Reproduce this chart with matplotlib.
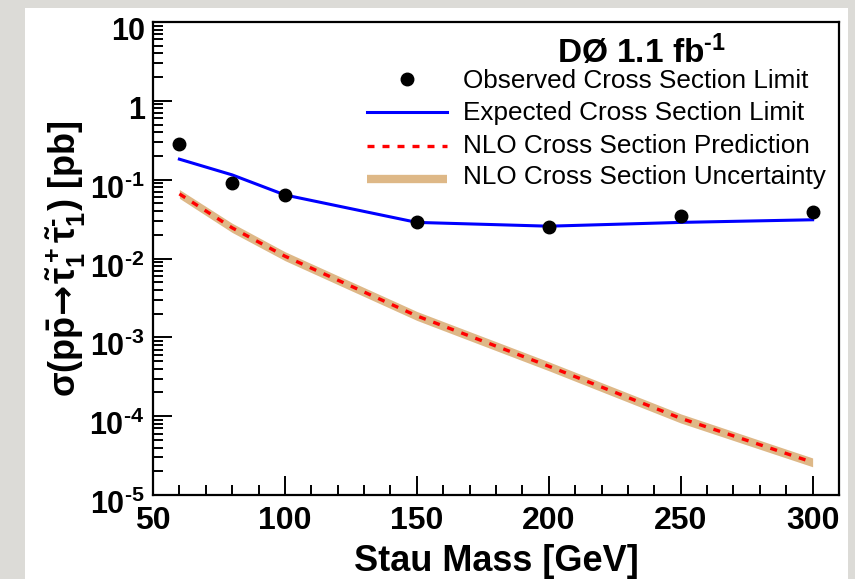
import numpy as np
import matplotlib
matplotlib.use("Agg")
import matplotlib.pyplot as plt
import matplotlib.transforms as mtransforms
from matplotlib.patches import Rectangle
from matplotlib.lines import Line2D
from matplotlib.ticker import FixedLocator, FuncFormatter, LogLocator, NullFormatter

plt.rcParams["font.family"] = ["Liberation Sans", "DejaVu Sans"]
plt.rcParams["mathtext.fontset"] = "custom"
plt.rcParams["mathtext.rm"] = "Liberation Sans:bold"
plt.rcParams["mathtext.it"] = "Liberation Sans:bold"
plt.rcParams["mathtext.bf"] = "Liberation Sans:bold"
plt.rcParams["mathtext.sf"] = "DejaVu Sans:bold"   # only used for the arrow

###########################################################################
# Data
###########################################################################

mass = [60, 80, 100, 150, 200, 250, 300]

observed = [0.283, 0.091, 0.064, 0.029, 0.025, 0.035, 0.039]
expected = [0.182, 0.115, 0.064, 0.0287, 0.0257, 0.0287, 0.031]
nlo = [0.066, 0.0245, 0.0107, 0.00187, 0.00043, 9.4e-5, 2.6e-5]
nlo_up = [0.075, 0.028, 0.0122, 0.00213, 0.00049, 1.07e-4, 2.95e-5]
nlo_down = [0.058, 0.0214, 0.0094, 0.00164, 0.000377, 8.2e-5, 2.28e-5]

x_ticks = [50, 100, 150, 200, 250, 300]
y_ticks = [1e-5, 1e-4, 1e-3, 1e-2, 1e-1, 1, 10]

###########################################################################
# Figure
###########################################################################

fig = plt.figure(figsize=(8.55, 5.79), dpi=100, facecolor="#dcdbd7")

# white panel behind everything
fig.patches.append(Rectangle((25 / 855, 0), 823 / 855, 571 / 579,
                             transform=fig.transFigure, facecolor="white",
                             edgecolor="none", zorder=-10))

ax = fig.add_axes([153 / 855, 1 - 495 / 579, 686 / 855, 473 / 579])
ax.set_zorder(5)
ax.set_facecolor("white")

ax.fill_between(mass, nlo_down, nlo_up, color="#deb887", lw=0, zorder=1)
ax.plot(mass, nlo, color="red", lw=2.4, dashes=(2.1, 2.4), zorder=2)
ax.plot(mass, expected, color="blue", lw=2.2, zorder=3)
ax.plot(mass, observed, "o", color="black", ms=9, zorder=4)

ax.set_yscale("log")
ax.set_xlim(50, 310)
ax.set_ylim(1e-5, 10)

ax.xaxis.set_major_locator(FixedLocator(x_ticks))
ax.xaxis.set_minor_locator(FixedLocator(range(50, 311, 10)))
ax.yaxis.set_major_locator(FixedLocator(y_ticks))
ax.yaxis.set_minor_locator(LogLocator(base=10, subs=np.arange(2, 10)))
ax.yaxis.set_minor_formatter(NullFormatter())


def ylab(v, pos):
    e = int(round(np.log10(v)))
    if e == 0:
        return "1"
    if e == 1:
        return "10"
    return r"$\mathbf{10^{\text{-%d}}}$" % (-e)


ax.yaxis.set_major_formatter(FuncFormatter(ylab))

ax.tick_params(which="both", direction="in", top=False, right=False, width=1.4)
ax.tick_params(which="major", length=14)
ax.tick_params(which="minor", length=7)
ax.tick_params(axis="x", labelsize=23, pad=8)
ax.tick_params(axis="y", labelsize=22, pad=6)
for lab in ax.get_xticklabels():
    lab.set_fontweight("bold")

# ROOT puts the labels a bit below the tick
shift = mtransforms.ScaledTranslation(0, -7 / 100, fig.dpi_scale_trans)
for lab in ax.get_yticklabels():
    lab.set_fontweight("bold")
    lab.set_transform(lab.get_transform() + shift)

for s in ax.spines.values():
    s.set_linewidth(1.6)

ax.set_xlabel("Stau Mass [GeV]", fontsize=26, fontweight="bold", labelpad=6)
ax.set_ylabel(r"$\sigma(p\bar{p}\!\mathsf{\rightarrow}\!\tilde{\tau}_1^+\tilde{\tau}_1^{\text{-}})$ [pb]",
              fontsize=26, fontweight="bold", labelpad=1)

###########################################################################
# Legend (drawn by hand, ROOT style)
###########################################################################

fy = lambda r: 1 - r / 579

fig.text(641 / 855, fy(63), r"DØ 1.1 fb$^{\text{-1}}$", fontsize=24,
         fontweight="bold", ha="center", va="baseline", zorder=10)

rows = [79, 112, 146, 179]
baselines = [88, 120, 153, 184]
labels = ["Observed Cross Section Limit", "Expected Cross Section Limit",
          "NLO Cross Section Prediction", "NLO Cross Section Uncertainty"]
for b, t in zip(baselines, labels):
    fig.text(463 / 855, fy(b), t, fontsize=18.8, ha="left", va="baseline",
             zorder=10)

fig.add_artist(Line2D([407 / 855], [fy(rows[0])], marker="o", color="black",
                      ms=9, ls="none", zorder=10))
fig.add_artist(Line2D([367 / 855, 447 / 855], [fy(rows[1])] * 2,
                      color="blue", lw=2.2, zorder=10))
fig.add_artist(Line2D([367 / 855, 447 / 855], [fy(rows[2])] * 2,
                      color="red", lw=2.4, dashes=(2.1, 2.4), zorder=10))
fig.add_artist(Line2D([367 / 855, 447 / 855], [fy(rows[3])] * 2,
                      color="#deb887", lw=6, solid_capstyle="butt", zorder=10))

fig.savefig("out.png", dpi=100, facecolor=fig.get_facecolor())
